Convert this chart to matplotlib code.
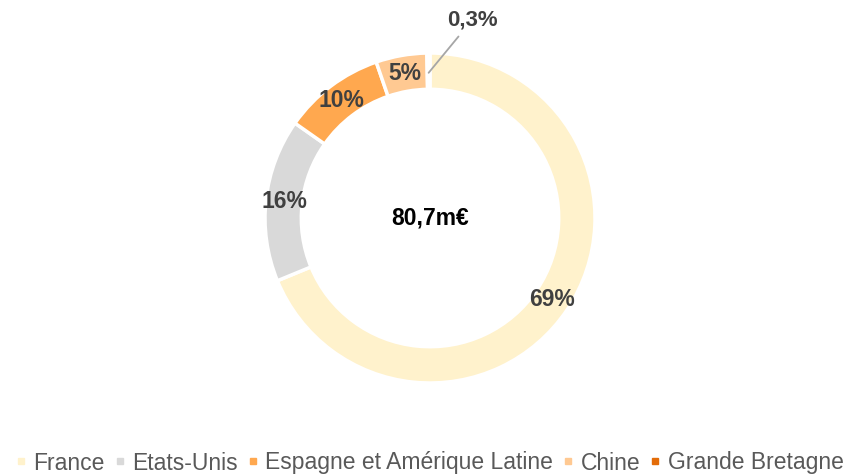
import numpy as np
import matplotlib.pyplot as plt
from matplotlib.lines import Line2D

plt.rcParams['font.family'] = ['Liberation Sans', 'DejaVu Sans']

# data
countries = ["France", "Etats-Unis", "Espagne et Amérique Latine", "Chine", "Grande Bretagne"]
shares = [69, 16, 10, 5, 0.3]
labels = ["69%", "16%", "10%", "5%", "0,3%"]
colors = ["#FFF2CC", "#D9D9D9", "#FFA84F", "#FFC992", "#E36C09"]
total_text = "80,7m€"

fig = plt.figure(figsize=(8.61, 4.74), dpi=100)
ax = fig.add_axes([265 / 861, 91 / 474, 330 / 861, 330 / 474])

ring = 0.22
wedges, _ = ax.pie(shares, colors=colors, startangle=90, counterclock=False,
                   radius=1, wedgeprops=dict(width=ring, edgecolor="white", linewidth=2.5))
ax.set_xlim(-1, 1)
ax.set_ylim(-1, 1)
ax.set_aspect("equal")

# percentage labels in the middle of the ring
r_lab = 1 - ring / 2
for i, w in enumerate(wedges):
    ang = np.deg2rad((w.theta1 + w.theta2) / 2)
    x, y = r_lab * np.cos(ang), r_lab * np.sin(ang)
    if i == len(wedges) - 1:
        # tiny slice gets a leader line
        ax.annotate(labels[i], xy=(x, y - 0.01), xytext=(0.255, 1.2),
                    ha="center", va="center", fontsize=16, fontweight="bold",
                    color="#404040", annotation_clip=False,
                    arrowprops=dict(arrowstyle="-", color="#A6A6A6", lw=1.3,
                                    shrinkA=3, shrinkB=0))
    else:
        ax.text(x, y, labels[i], ha="center", va="center", fontsize=16.5,
                fontweight="bold", color="#404040")

ax.text(0, 0, total_text, ha="center", va="center", fontsize=16.5,
        fontweight="bold", color="black")

handles = [Line2D([], [], marker="s", linestyle="", markersize=4.5,
                  markerfacecolor=c, markeredgecolor=c) for c in colors]
fig.legend(handles, countries, loc="center", bbox_to_anchor=(0.5, 1 - 463 / 474),
           ncol=5, frameon=False, fontsize=16.5, handlelength=0.3, handletextpad=0.4,
           columnspacing=0.5, labelcolor="#595959")

fig.savefig("out.png", dpi=100)
